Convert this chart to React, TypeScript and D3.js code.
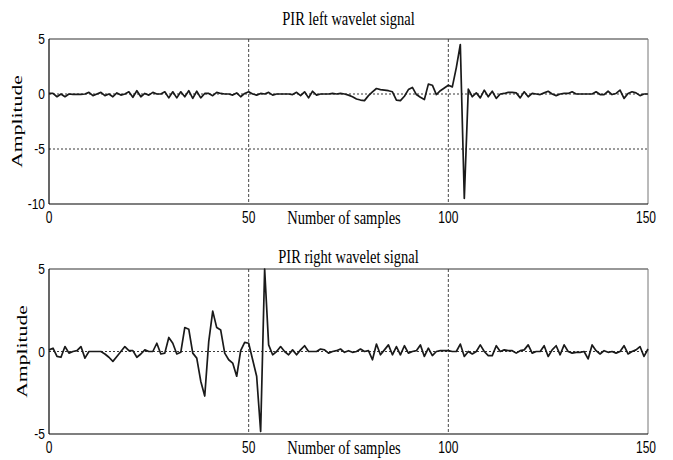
import React from "react";
import * as d3 from "d3";

// sample values (index = sample number)
const leftSignal = [
  0.05, 0.05, -0.25, 0.0, -0.25, 0.0, -0.03, -0.03, -0.03, 0.0,
  0.15, -0.15, 0.0, 0.15, -0.15, 0.0, -0.25, 0.1, -0.1, 0.0,
  0.2, -0.3, 0.3, -0.25, 0.05, -0.1, 0.15, 0.0, 0.0, 0.2,
  -0.35, 0.2, -0.35, 0.2, -0.25, 0.3, -0.4, 0.25, -0.35, 0.05,
  0.05, -0.15, 0.15, 0.05, 0.0, 0.0, -0.1, 0.1, -0.25, 0.05,
  0.2, 0.0, -0.1, 0.05, 0.0, 0.15, -0.1, 0.0, 0.0, 0.0,
  0.0, -0.05, 0.15, -0.15, 0.2, -0.35, 0.25, -0.1, 0.0, 0.0,
  0.0, 0.05, 0.0, 0.05, 0.0, -0.1, -0.25, -0.45, -0.55, -0.6,
  -0.15, 0.2, 0.5, 0.4, 0.35, 0.3, 0.2, -0.55, -0.6, -0.2,
  0.4, 0.6, -0.05, -0.3, -0.5, 0.9, 0.8, -0.05, 0.3, 0.55,
  0.8, 0.65, 2.4, 4.5, -9.5, 0.45, -0.25, 0.1, -0.35, 0.35,
  -0.25, 0.25, -0.4, 0.0, 0.05, 0.15, 0.15, 0.1, -0.35, 0.2,
  -0.25, 0.05, 0.0, -0.05, 0.1, 0.25, 0.0, -0.15, 0.0, 0.05,
  0.05, 0.2, 0.0, 0.0, 0.0, 0.0, 0.0, 0.2, -0.05, -0.05,
  0.25, -0.05, 0.05, 0.35, -0.4, 0.05, 0.2, 0.1, -0.15, 0.0,
  0.0,
];

const rightSignal = [
  0.1, 0.2, -0.3, -0.35, 0.3, -0.1, 0.0, 0.05, 0.3, -0.4,
  0.0, 0.0, 0.0, 0.0, -0.15, -0.35, -0.6, -0.3, 0.0, 0.3,
  0.05, 0.05, -0.35, -0.15, 0.1, 0.0, 0.0, 0.5, -0.15, -0.1,
  0.85, 0.5, -0.15, -0.05, 1.45, 1.35, -0.1, -0.4, -1.8, -2.7,
  0.6, 2.45, 1.45, 1.3, -0.1, -0.5, -0.7, -1.5, 0.05, 0.55,
  0.5, -0.5, -1.5, -4.85, 5.0, 0.4, -0.2, 0.0, 0.3, 0.0,
  -0.2, 0.1, -0.2, 0.1, 0.35, 0.0, 0.0, 0.0, 0.15, 0.1,
  -0.1, 0.0, 0.05, 0.15, -0.05, 0.05, -0.05, 0.0, 0.15, 0.0,
  0.05, -0.5, 0.45, -0.2, 0.1, 0.4, -0.2, 0.3, -0.2, 0.35,
  -0.1, 0.0, 0.05, 0.4, -0.3, 0.2, -0.25, 0.0, 0.05, 0.05,
  0.05, 0.0, 0.0, 0.45, -0.3, 0.0, -0.15, 0.0, 0.4, 0.0,
  -0.25, -0.25, 0.35, 0.0, 0.1, 0.05, 0.05, -0.1, 0.05, 0.1,
  0.4, -0.1, 0.0, 0.0, 0.35, -0.3, 0.1, 0.35, -0.2, 0.4,
  0.0, -0.1, -0.05, -0.05, 0.0, -0.45, 0.4, 0.05, -0.15, 0.05,
  -0.05, 0.0, -0.1, 0.0, 0.35, -0.15, 0.0, 0.1, 0.3, -0.3,
  0.15,
];

const xTicks = [0, 50, 100, 150];
const xGrid = [50, 100];
const leftYTicks = [-10, -5, 0, 5];
const leftYGrid = [-5, 0];
const rightYTicks = [-5, 0, 5];
const rightYGrid = [0];

const W = 673;
const H = 460;
const plotLeft = 49;
const plotRight = 648;

const serif = "'Liberation Serif', 'Times New Roman', serif";
const sans = "'Liberation Sans', Arial, sans-serif";

// the reference image is squashed, text is taller than it is wide
const Stretch = ({ x, y, sy, anchor, font, size, children }) => (
  <text
    transform={`translate(${x},${y}) scale(1,${sy})`}
    textAnchor={anchor}
    fontFamily={font}
    fontSize={size}
    fill="#000"
  >
    {children}
  </text>
);

const Panel = ({ title, values, yDomain, yTicks, yGrid, top, bottom, titleY, labelY, tickY, ampX }) => {
  const x = d3.scaleLinear().domain([0, 150]).range([plotLeft, plotRight]);
  const y = d3.scaleLinear().domain(yDomain).range([bottom, top]);
  const line = d3
    .line<number>()
    .x((d, i) => x(i))
    .y((d) => y(d));

  return (
    <g>
      {/* grid */}
      {xGrid.map((t) => (
        <line key={"gx" + t} x1={x(t)} x2={x(t)} y1={top} y2={bottom}
          stroke="#333" strokeWidth={0.9} strokeDasharray="3,2" />
      ))}
      {yGrid.map((t) => (
        <line key={"gy" + t} x1={plotLeft} x2={plotRight} y1={y(t)} y2={y(t)}
          stroke="#222" strokeWidth={0.9} strokeDasharray="2,2" />
      ))}

      {/* box */}
      <line x1={plotLeft} x2={plotRight} y1={top} y2={top} stroke="#333" strokeWidth={1.2} />
      <line x1={plotRight} x2={plotRight} y1={top} y2={bottom} stroke="#777" strokeWidth={1} />
      <line x1={plotLeft} x2={plotLeft} y1={top} y2={bottom} stroke="#000" strokeWidth={1.2} />
      <line x1={plotLeft} x2={plotRight} y1={bottom} y2={bottom} stroke="#000" strokeWidth={1.2} />

      <path d={line(values)} fill="none" stroke="#1a1a1a" strokeWidth={1.7} strokeLinejoin="round" />

      {/* y tick labels */}
      {yTicks.map((t) => (
        <Stretch key={"yt" + t} x={45} y={y(t) + 5} sy={1.2} anchor="end" font={sans} size={12}>
          {t}
        </Stretch>
      ))}
      {/* x tick labels */}
      {xTicks.map((t) => (
        <Stretch key={"xt" + t} x={x(t) - (t === 150 ? 2 : 0)} y={tickY} sy={1.45} anchor="middle" font={sans} size={12}>
          {t}
        </Stretch>
      ))}

      <Stretch x={(plotLeft + plotRight) / 2} y={titleY} sy={1.35} anchor="middle" font={serif} size={14.5}>
        {title}
      </Stretch>
      <Stretch x={344} y={labelY} sy={1.3} anchor="middle" font={serif} size={14.5}>
        Number of samples
      </Stretch>
      <text
        transform={`translate(${ampX},${(top + bottom) / 2}) scale(1,1.4) rotate(-90)`}
        textAnchor="middle"
        fontFamily={serif}
        fontSize={15.5}
        fill="#000"
      >
        Amplitude
      </text>
    </g>
  );
};

export default function App() {
  return (
    <svg width={W} height={H} style={{ position: "absolute", left: 0, top: 0, background: "#fff" }}>
      <rect width={W} height={H} fill="#fff" />
      <Panel
        title="PIR left wavelet signal"
        values={leftSignal}
        yDomain={[-10, 5]}
        yTicks={leftYTicks}
        yGrid={leftYGrid}
        top={39}
        bottom={204}
        titleY={25}
        labelY={224}
        tickY={223}
        ampX={22}
      />
      <Panel
        title="PIR right wavelet signal"
        values={rightSignal}
        yDomain={[-5, 5]}
        yTicks={rightYTicks}
        yGrid={rightYGrid}
        top={269}
        bottom={434}
        titleY={263}
        labelY={454}
        tickY={452.5}
        ampX={27}
      />
    </svg>
  );
}
